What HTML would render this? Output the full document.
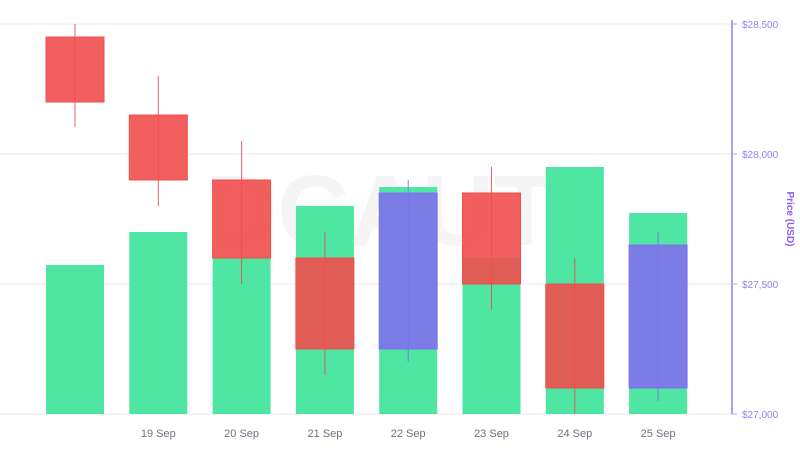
<!DOCTYPE html>
<html><head><meta charset="utf-8"><style>
body{margin:0;background:#fff;font-family:"Liberation Sans",sans-serif}
svg{display:block}
</style></head><body>
<svg id="c" width="800" height="450">
<text x="380" y="245" text-anchor="middle" font-size="100" font-weight="bold" fill="#f5f5f5">DCAUT</text>
</svg>
<script>
const categories=["18 Sep","19 Sep","20 Sep","21 Sep","22 Sep","23 Sep","24 Sep","25 Sep"];
const showLabel=[false,true,true,true,true,true,true,true];
const volumeBar=[27573,27700,27600,27800,27873,27600,27950,27773];
const opens=[28450,28150,27900,27600,27250,27850,27500,27100];
const closes=[28200,27900,27600,27250,27850,27500,27100,27650];
const highs=[28500,28300,28050,27700,27900,27950,27600,27700];
const lows=[28104,27800,27500,27150,27200,27400,27000,27050];
const yTicks=[27000,27500,28000,28500];
const yTickLabels=["$27,000","$27,500","$28,000","$28,500"];
const svg=document.getElementById('c');const NS='http://www.w3.org/2000/svg';
const y=v=>414-(v-27000)*(390/1500);
const x=i=>75+i*83.3;
function mk(t,a){const e=document.createElementNS(NS,t);for(const k in a)e.setAttribute(k,a[k]);svg.appendChild(e);return e;}
yTicks.forEach((v,i)=>{
 const g=mk('line',{x1:0,x2:732,y1:y(v),y2:y(v),stroke:'#e8e8ec','stroke-width':1});
 
 
 const t=mk('text',{x:742,y:y(v)+4,'font-size':10,fill:'#9a7cf0'});t.textContent=yTickLabels[i];
 
 
 mk('line',{x1:732,x2:737,y1:y(v),y2:y(v),stroke:'#b49cf5'});
});
const ax=mk('line',{x1:732,x2:732,y1:20,y2:414,stroke:'#b49cf5','stroke-width':2});


const yt=mk('text',{x:0,y:0,'font-size':10,'font-weight':'bold',fill:'#8b5cf6','text-anchor':'middle',transform:'translate(787,219) rotate(90)'});
yt.textContent='Price (USD)';


categories.forEach((c,i)=>{
 const b=mk('rect',{x:x(i)-29,y:y(volumeBar[i]),width:58,height:414-y(volumeBar[i]),fill:'#4fe6a4'});
 
 
 if(showLabel[i]){const t=mk('text',{x:x(i),y:437,'font-size':11,fill:'#6b7280','text-anchor':'middle'});t.textContent=c;
 
 }
});
categories.forEach((c,i)=>{
 const up=closes[i]>=opens[i];const col=up?'#8070ec':'#f04e4e';
 const w=mk('line',{x1:x(i),x2:x(i),y1:y(highs[i]),y2:y(lows[i]),stroke:col,'stroke-width':1,opacity:0.9});
 
 
 const top=Math.max(opens[i],closes[i]),bot=Math.min(opens[i],closes[i]);
 const r=mk('rect',{x:x(i)-29,y:y(top),width:58,height:y(bot)-y(top),fill:col,'fill-opacity':0.9,stroke:col,'stroke-width':1});
 
 
});
</script>
</body></html>
